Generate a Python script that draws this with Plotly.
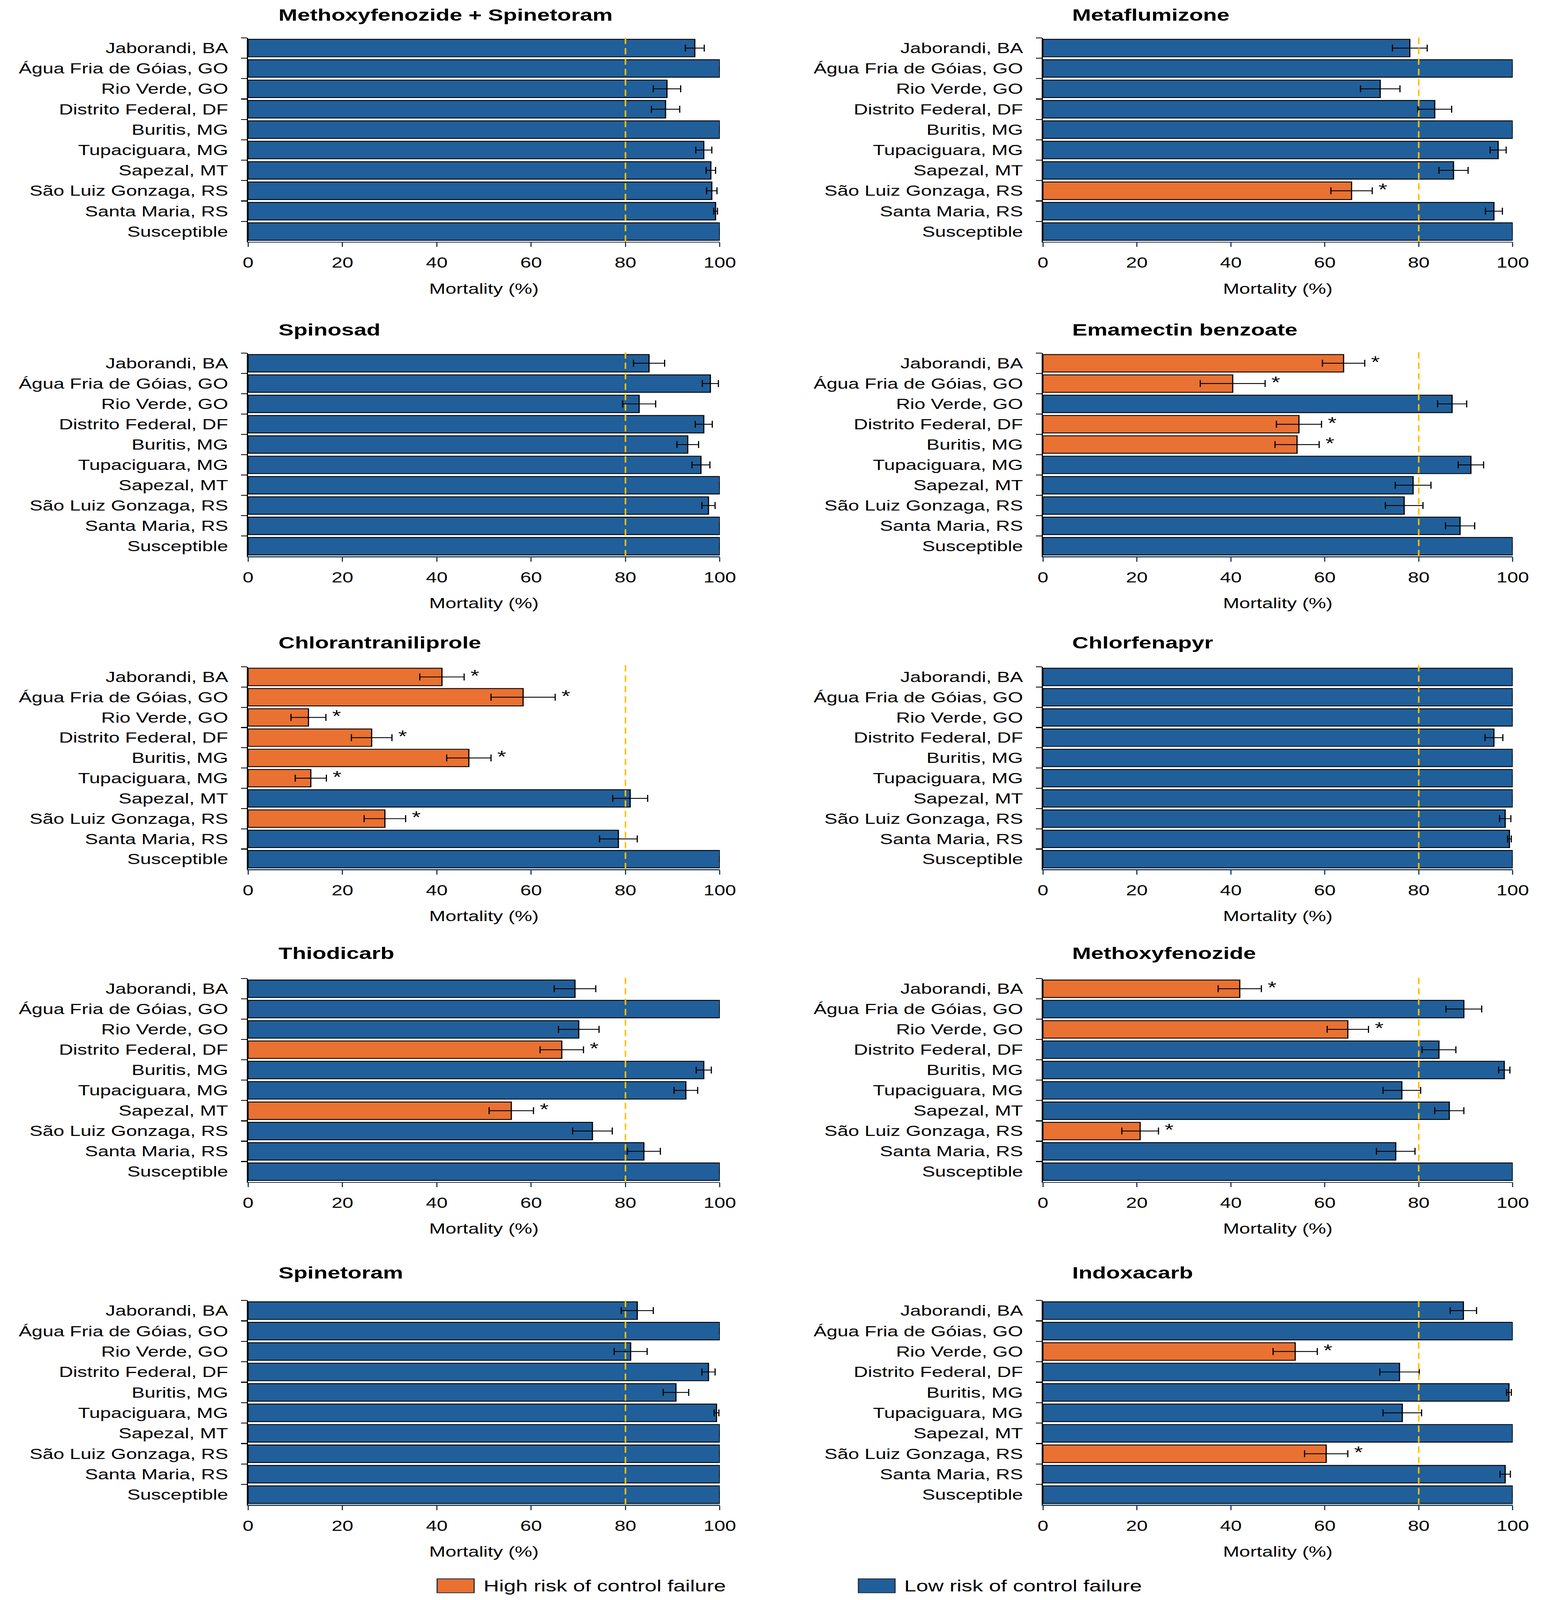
import plotly.graph_objects as go

# ---------------- data ----------------
categories = ["Jaborandi, BA", "Água Fria de Góias, GO", "Rio Verde, GO",
              "Distrito Federal, DF", "Buritis, MG", "Tupaciguara, MG",
              "Sapezal, MT", "São Luiz Gonzaga, RS", "Santa Maria, RS",
              "Susceptible"]

titles = ["Methoxyfenozide + Spinetoram", "Metaflumizone", "Spinosad",
          "Emamectin benzoate", "Chlorantraniliprole", "Chlorfenapyr",
          "Thiodicarb", "Methoxyfenozide", "Spinetoram", "Indoxacarb"]

mort_methox_spinet = [94.7, 100, 88.8, 88.5, 100, 96.6, 98.1, 98.3, 99.1, 100]
se_methox_spinet = [2.0, 0, 2.9, 3.0, 0, 1.7, 1.0, 1.1, 0.4, 0]
high_methox_spinet = []

mort_metaflumizone = [78.1, 100, 71.8, 83.4, 100, 96.9, 87.4, 65.7, 96.0, 100]
se_metaflumizone = [3.7, 0, 4.2, 3.6, 0, 1.7, 3.1, 4.4, 1.8, 0]
high_metaflumizone = ["São Luiz Gonzaga, RS"]

mort_spinosad = [85.0, 98.0, 82.9, 96.6, 93.2, 96.0, 100, 97.6, 100, 100]
se_spinosad = [3.3, 1.7, 3.5, 1.8, 2.3, 1.9, 0, 1.4, 0, 0]
high_spinosad = []

mort_emamectin = [64.0, 40.4, 87.1, 54.5, 54.1, 91.1, 78.8, 76.9, 88.8, 100]
se_emamectin = [4.5, 6.9, 3.1, 4.8, 4.7, 2.7, 3.8, 4.0, 3.1, 0]
high_emamectin = ["Jaborandi, BA", "Água Fria de Góias, GO",
                  "Distrito Federal, DF", "Buritis, MG"]

mort_chlorantr = [41.1, 58.3, 12.8, 26.2, 46.8, 13.3, 81.0, 29.0, 78.5, 100]
se_chlorantr = [4.7, 6.8, 3.7, 4.3, 4.7, 3.3, 3.7, 4.4, 4.0, 0]
high_chlorantr = ["Jaborandi, BA", "Água Fria de Góias, GO", "Rio Verde, GO",
                  "Distrito Federal, DF", "Buritis, MG", "Tupaciguara, MG",
                  "São Luiz Gonzaga, RS"]

mort_chlorfenapyr = [100, 100, 100, 96.0, 100, 100, 100, 98.4, 99.3, 100]
se_chlorfenapyr = [0, 0, 0, 1.9, 0, 0, 0, 1.2, 0.4, 0]
high_chlorfenapyr = []

mort_thiodicarb = [69.3, 100, 70.1, 66.5, 96.6, 92.8, 55.8, 73.0, 83.9, 100]
se_thiodicarb = [4.4, 0, 4.3, 4.6, 1.6, 2.5, 4.7, 4.2, 3.5, 0]
high_thiodicarb = ["Distrito Federal, DF", "Sapezal, MT"]

mort_methoxyfenozide = [41.9, 89.6, 64.9, 84.3, 98.2, 76.4, 86.5, 20.7, 75.1, 100]
se_methoxyfenozide = [4.6, 3.8, 4.4, 3.6, 1.2, 4.0, 3.1, 3.9, 4.1, 0]
high_methoxyfenozide = ["Jaborandi, BA", "Rio Verde, GO", "São Luiz Gonzaga, RS"]

mort_spinetoram = [82.5, 100, 81.1, 97.6, 90.7, 99.3, 100, 100, 100, 100]
se_spinetoram = [3.4, 0, 3.5, 1.4, 2.7, 0.5, 0, 0, 0, 0]
high_spinetoram = []

mort_indoxacarb = [89.5, 100, 53.7, 75.9, 99.2, 76.5, 100, 60.3, 98.4, 100]
se_indoxacarb = [2.8, 0, 4.7, 4.2, 0.5, 4.1, 0, 4.6, 1.1, 0]
high_indoxacarb = ["Rio Verde, GO", "São Luiz Gonzaga, RS"]

x_ticks = [0, 20, 40, 60, 80, 100]
threshold = 80
legend_labels = ["High risk of control failure", "Low risk of control failure"]
x_title = "Mortality (%)"

panels = [
    (mort_methox_spinet, se_methox_spinet, high_methox_spinet),
    (mort_metaflumizone, se_metaflumizone, high_metaflumizone),
    (mort_spinosad, se_spinosad, high_spinosad),
    (mort_emamectin, se_emamectin, high_emamectin),
    (mort_chlorantr, se_chlorantr, high_chlorantr),
    (mort_chlorfenapyr, se_chlorfenapyr, high_chlorfenapyr),
    (mort_thiodicarb, se_thiodicarb, high_thiodicarb),
    (mort_methoxyfenozide, se_methoxyfenozide, high_methoxyfenozide),
    (mort_spinetoram, se_spinetoram, high_spinetoram),
    (mort_indoxacarb, se_indoxacarb, high_indoxacarb),
]

# ---------------- style / layout ----------------
W, H = 3976, 5533
BLUE = "#215F9A"
ORANGE = "#E97132"
GOLD = "#FFC000"
FONT = "Liberation Sans, Arial, sans-serif"
FS = 50

col_px = [(630, 1855), (2694, 3914)]
row_px = [(131, 836), (1221, 1924), (2306, 3006), (3384, 4087), (4497, 5204)]
title_y_px = [50, 1139, 2222, 3295, 4400]
title_x_px = [707, 2768]

fig = go.Figure()
layout = dict(
    width=W, height=H,
    margin=dict(l=0, r=0, t=0, b=0, pad=0),
    paper_bgcolor="white", plot_bgcolor="white",
    showlegend=False, bargap=0.14,
    font=dict(family=FONT, size=FS, color="black"),
)
annotations = []
shapes = []

for i, (mort, se, high) in enumerate(panels):
    r, c = divmod(i, 2)
    n = i + 1
    xa = "x" if n == 1 else f"x{n}"
    ya = "y" if n == 1 else f"y{n}"
    colors = [ORANGE if cat in high else BLUE for cat in categories]
    fig.add_trace(go.Bar(
        x=mort, y=categories, orientation="h",
        marker=dict(color=colors, line=dict(color="black", width=3)),
        error_x=dict(type="data", array=se, visible=True,
                     color="black", thickness=3, width=12),
        xaxis=xa, yaxis=ya, cliponaxis=False, hoverinfo="x+y",
    ))
    star_x = [m + s for m, s, cat in zip(mort, se, categories) if cat in high]
    star_y = [cat for cat in categories if cat in high]
    if star_x:
        fig.add_trace(go.Scatter(
            x=star_x, y=star_y, mode="text", text=["\u00a0*"] * len(star_x),
            textposition="middle right", textfont=dict(size=58, color="black"),
            xaxis=xa, yaxis=ya, cliponaxis=False, hoverinfo="skip",
        ))
    x0, x1 = col_px[c]
    ytop, ybot = row_px[r]
    kx = "xaxis" if n == 1 else f"xaxis{n}"
    ky = "yaxis" if n == 1 else f"yaxis{n}"
    layout[kx] = dict(
        domain=[x0 / W, x1 / W], anchor=ya, range=[0, 100],
        tickmode="array", tickvals=x_ticks,
        ticks="outside", ticklen=15, tickwidth=3, tickcolor="#1F3A5A",
        showline=True, linecolor="#1F3A5A", linewidth=3,
        showgrid=False, zeroline=False,
        tickfont=dict(size=FS, color="black"), ticklabelstandoff=12,
        title=dict(text=x_title, font=dict(size=FS, color="black"), standoff=45),
    )
    layout[ky] = dict(
        domain=[1 - ybot / H, 1 - ytop / H], anchor=xa,
        type="category", categoryorder="array", categoryarray=categories,
        autorange="reversed",
        ticks="outside", tickson="boundaries", ticklen=15, tickwidth=3,
        tickcolor="black", showline=True, linecolor="black", linewidth=3,
        showgrid=False, zeroline=False,
        tickfont=dict(size=FS, color="black"), ticklabelstandoff=38,
    )
    shapes.append(dict(
        type="line", xref=xa, x0=threshold, x1=threshold,
        yref=f"{ya} domain", y0=0, y1=1.015,
        line=dict(color=GOLD, width=4, dash="22px,14px"), layer="above",
    ))
    annotations.append(dict(
        text=f"<b>{titles[i]}</b>", xref="paper", yref="paper",
        x=title_x_px[c] / W, y=1 - title_y_px[r] / H,
        xanchor="left", yanchor="middle", showarrow=False,
        font=dict(size=58, color="black", family=FONT),
    ))

# legend (drawn manually so the swatches match the reference size)
legend_colors = [ORANGE, BLUE]
legend_box_px = [(1121, 1217), (2215, 2310)]
legend_y_px = (5460, 5508)
for lab, col, (bx0, bx1) in zip(legend_labels, legend_colors, legend_box_px):
    shapes.append(dict(
        type="rect", xref="paper", yref="paper",
        x0=bx0 / W, x1=bx1 / W, y0=1 - legend_y_px[1] / H, y1=1 - legend_y_px[0] / H,
        fillcolor=col, line=dict(color="#1F2D3D", width=3),
    ))
    annotations.append(dict(
        text=lab, xref="paper", yref="paper",
        x=(bx1 + 22) / W, y=1 - (legend_y_px[0] + legend_y_px[1]) / 2 / H,
        xanchor="left", yanchor="middle", showarrow=False,
        font=dict(size=55, color="black", family=FONT),
    ))

layout["shapes"] = shapes
layout["annotations"] = annotations
fig.update_layout(**layout)

# If the browser viewport is smaller than the figure, fit the whole figure into it.
post = """
document.documentElement.style.margin='0';
document.body.style.margin='0';
document.documentElement.style.overflow='hidden';
document.body.style.overflow='hidden';
document.body.style.background='white';
var gd=document.getElementById('{plot_id}');
var sx=Math.min(1, window.innerWidth/%d);
var sy=Math.min(1, window.innerHeight/%d);
if(sx<1 || sy<1){
  gd.style.transformOrigin='0 0';
  gd.style.transform='scale('+sx+','+sy+')';
}
""" % (W, H)
fig.write_html("out.html", post_script=post,
               config={"displayModeBar": False})
